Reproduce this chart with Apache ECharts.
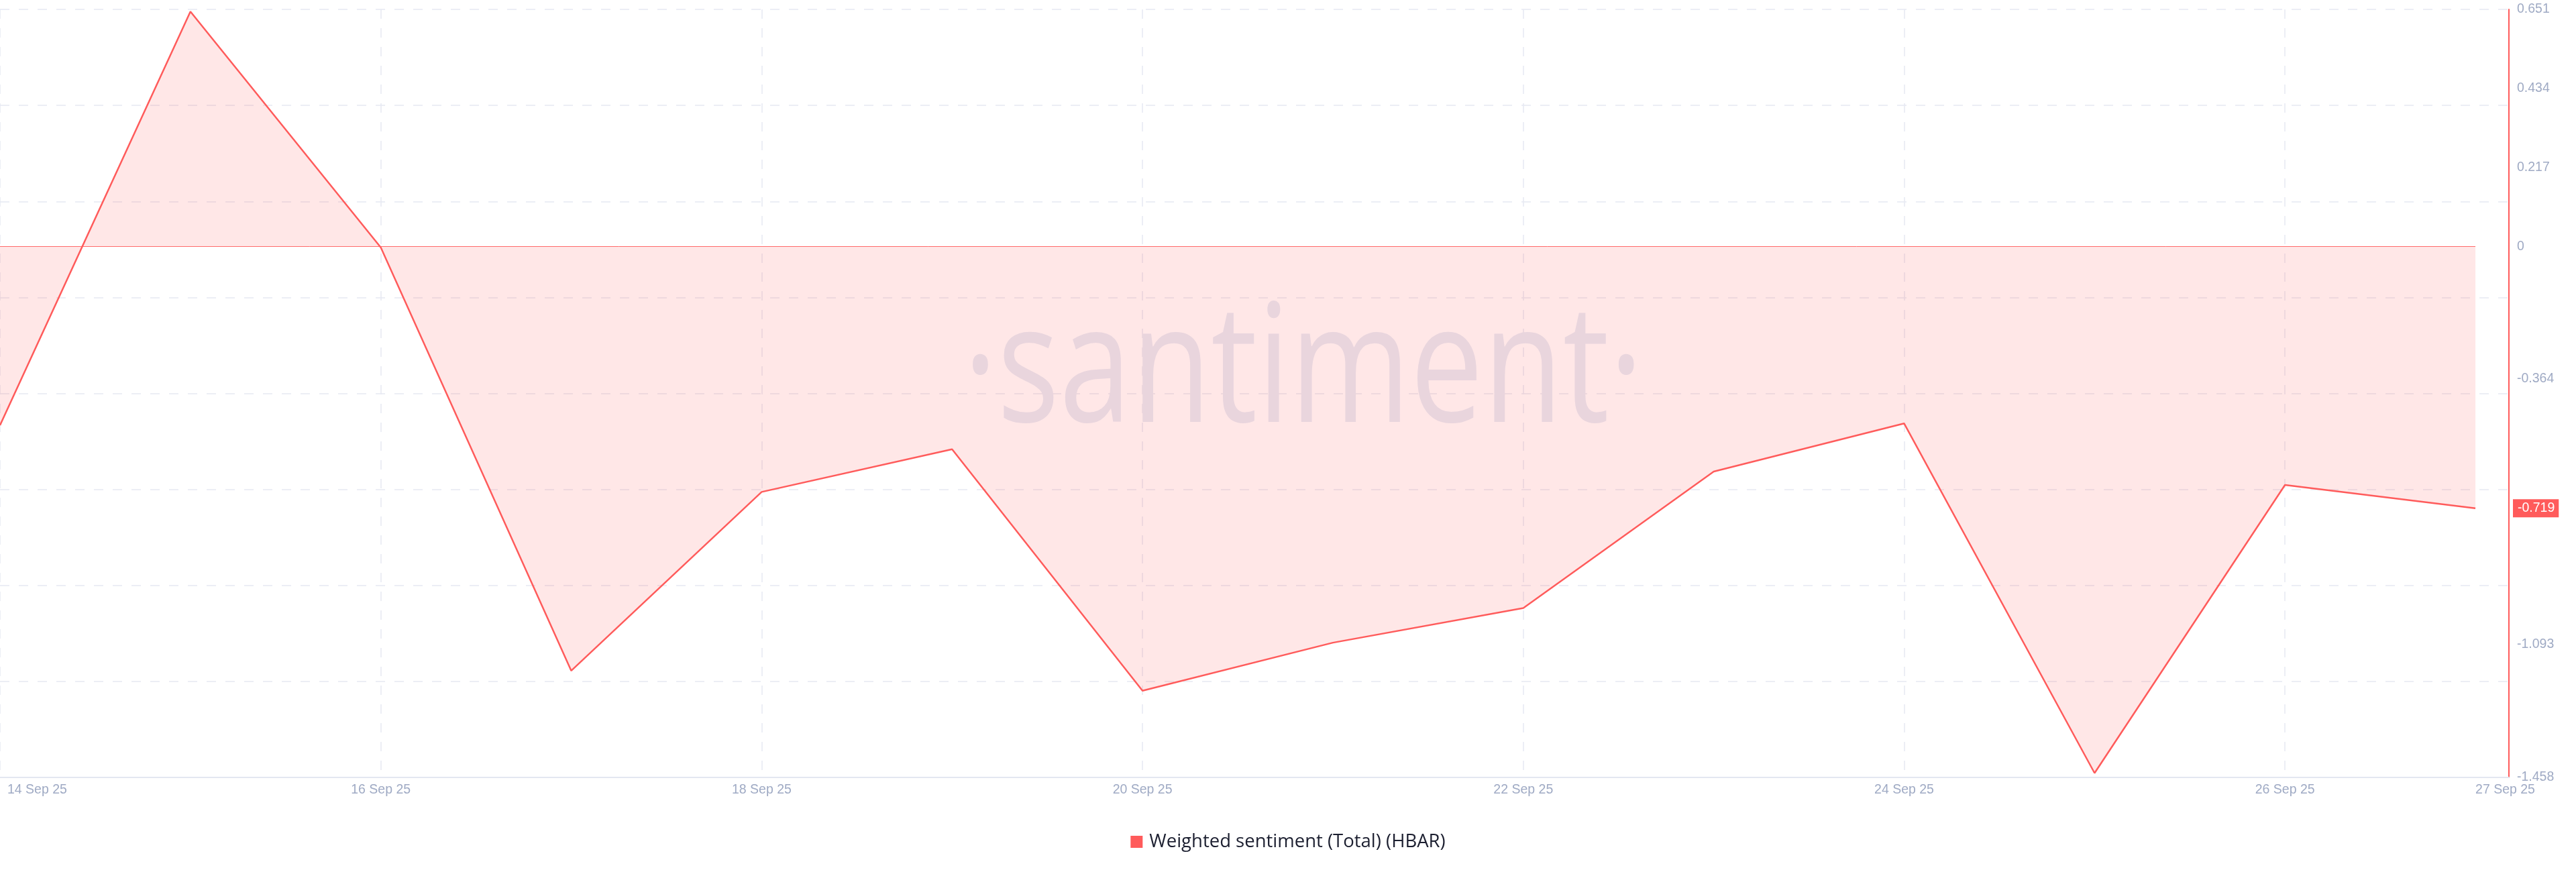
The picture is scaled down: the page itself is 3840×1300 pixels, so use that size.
<!DOCTYPE html>
<html>
<head>
<meta charset="utf-8">
<script src="https://cdn.jsdelivr.net/npm/echarts@6/dist/echarts.min.js"></script>
<style>
html,body{margin:0;padding:0;background:#fff;}
#chart{width:3840px;height:1300px;}
</style>
</head>
<body>
<div id="chart"></div>
<script>
const dates = ['14 Sep 25','15 Sep 25','16 Sep 25','17 Sep 25','18 Sep 25','19 Sep 25','20 Sep 25',
               '21 Sep 25','22 Sep 25','23 Sep 25','24 Sep 25','25 Sep 25','26 Sep 25','27 Sep 25'];
const sentiment = [-0.491, 0.645, -0.003, -1.165, -0.674, -0.557, -1.220,
                   -1.088, -0.993, -0.618, -0.486, -1.446, -0.655, -0.719];
const yTickLabels = [0.651, 0.434, 0.217, 0, -0.364, -1.093, -1.458];
const yMin = -1.458, yMax = 0.651;
const lastValue = -0.719;
const xMidLabelIdx = [2, 4, 6, 8, 10, 12];
const xEdgeLabelIdx = [0, 13];
const seriesName = 'Weighted sentiment (Total) (HBAR)';

const RED = '#ff5b5b';
const LABEL = '#9faac4';
const GRID = '#e6e9f2';
const FONT = 'Liberation Sans, Arial, sans-serif';

const chart = echarts.init(document.getElementById('chart'), null, {renderer: 'canvas'});
const xMax = dates.length - 1 + 0.176;

chart.setOption({
  animation: false,
  backgroundColor: '#fff',
  grid: {left: 0, right: 100, top: 14, bottom: 141, containLabel: false},
  graphic: [{
    type: 'text',
    z: 1,
    left: 1436,
    top: 437,
    scaleX: 0.79,
    style: {
      text: '·santiment·',
      font: '245px "Open Sans"',
      fill: '#e5eaf4'
    }
  }],
  legend: {
    data: [seriesName],
    left: 'center',
    top: 1236,
    icon: 'rect',
    itemWidth: 18,
    itemHeight: 18,
    itemGap: 10,
    textStyle: {fontFamily: 'Open Sans', fontSize: 27.5, color: '#1c1f30', padding: [0, 0, 0, 5]}
  },
  xAxis: [{
    type: 'value',
    min: 0, max: xMax, interval: 2,
    axisLine: {show: true, onZero: false, lineStyle: {color: '#e3e7f1', width: 2}},
    axisTick: {show: false},
    splitLine: {show: true, lineStyle: {type: [14, 14], color: GRID, width: 1.5}},
    axisLabel: {
      customValues: xMidLabelIdx,
      formatter: v => dates[Math.round(v)],
      color: LABEL, fontFamily: FONT, fontSize: 19.5, margin: 9
    }
  }, {
    type: 'value',
    position: 'bottom',
    min: 0, max: xMax,
    axisLine: {show: false, onZero: false},
    axisTick: {show: false},
    splitLine: {show: false},
    axisLabel: {
      customValues: xEdgeLabelIdx,
      align: 'left',
      formatter: v => Math.round(v) === 0 ? '{a|' + dates[0] + '}' : '{b|' + dates[dates.length-1] + '}',
      rich: {
        a: {color: LABEL, fontFamily: FONT, fontSize: 19.5, padding: [0,0,0,11]},
        b: {color: LABEL, fontFamily: FONT, fontSize: 19.5, padding: [0,0,0,0]}
      },
      margin: 9
    }
  }],
  yAxis: [{
    type: 'value',
    position: 'right',
    min: yMin, max: yMax,
    axisLine: {show: true, onZero: false, lineStyle: {color: RED, width: 2}},
    axisTick: {show: false},
    splitLine: {show: false},
    axisLabel: {
      customValues: yTickLabels,
      formatter: v => String(+(+v).toFixed(3)),
      color: LABEL, fontFamily: FONT, fontSize: 19.5, margin: 12
    }
  }, {
    type: 'value',
    position: 'right',
    min: 0, max: 8, interval: 1,
    axisLine: {show: false, onZero: false},
    axisTick: {show: false},
    axisLabel: {show: false},
    splitLine: {show: true, lineStyle: {type: [14, 14], color: GRID, width: 1.5}}
  }, {
    type: 'value',
    position: 'right',
    min: yMin, max: yMax,
    axisLine: {show: false, onZero: false},
    axisTick: {show: false},
    splitLine: {show: false},
    axisLabel: {
      customValues: [lastValue],
      formatter: v => String(+(+v).toFixed(3)),
      color: '#fff', fontFamily: FONT, fontSize: 19.5, margin: 6,
      backgroundColor: RED, padding: [4, 6, 3, 7]
    }
  }],
  series: [{
    name: seriesName,
    type: 'line',
    xAxisIndex: 0,
    yAxisIndex: 0,
    data: sentiment.map((v, i) => [i, v]),
    symbol: 'none',
    z: 3,
    itemStyle: {color: RED},
    lineStyle: {color: RED, width: 2.5},
    areaStyle: {color: RED, opacity: 0.15},
    markLine: {
      silent: true,
      symbol: ['none', 'none'],
      label: {show: false},
      lineStyle: {color: RED, width: 1, type: 'solid', opacity: 0.9},
      data: [[{coord: [0, 0]}, {coord: [dates.length - 1, 0]}]]
    }
  }]
});
</script>
</body>
</html>
